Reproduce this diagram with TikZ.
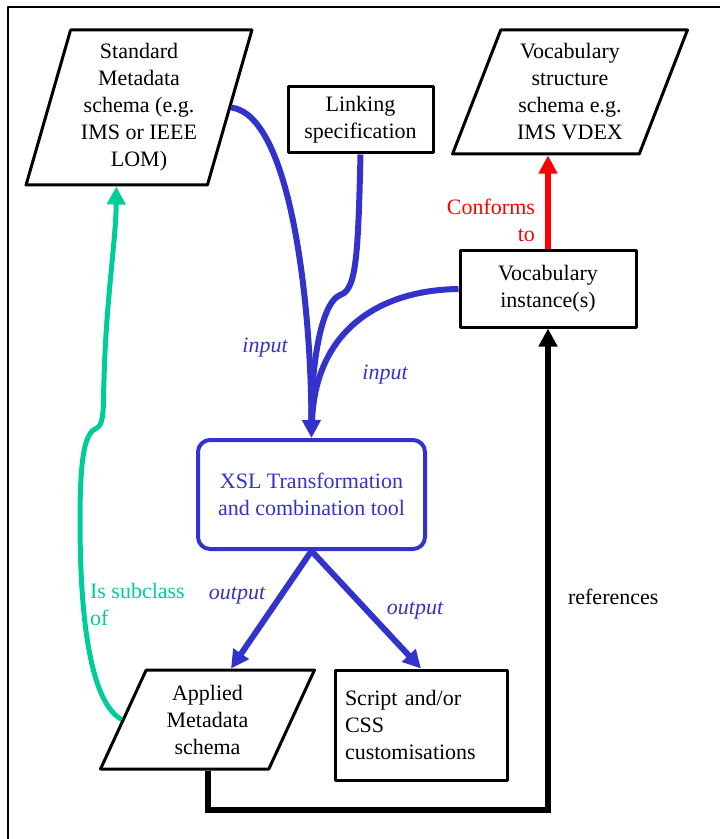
\documentclass[tikz,border=0pt]{standalone}
\usepackage{fontspec}
\setmainfont{Liberation Serif}
\usetikzlibrary{shapes.geometric,arrows.meta}
\definecolor{xslblue}{RGB}{51,51,204}
\definecolor{subgreen}{RGB}{0,204,153}
\tikzset{
  box/.style={draw, line width=1.5pt, align=center, inner sep=1pt},
  para/.style={draw, trapezium, trapezium stretches=true, line width=1.5pt, align=center, inner sep=1pt},
  flow/.style={line width=3pt, -{Triangle[length=9pt,width=9pt]}},
}
\begin{document}
\begin{tikzpicture}[x=0.5pt, y=-0.5pt, font=\fontsize{11}{13.5}\selectfont, line join=round]
  \useasboundingbox (0,0) rectangle (720,839);
  \draw[line width=1pt] (8,839) -- (8,7) -- (720,7);
  % nodes
  \node[para, trapezium left angle=73.5, trapezium right angle=106.5,
        minimum width=114pt, minimum height=77.5pt] (std) at (139,107.5)
        {Standard\\Metadata\\schema (e.g.\\IMS or IEEE\\LOM)};
  \node[box, minimum width=72.5pt, minimum height=33pt] (link) at (360.5,120)
        {Linking\\specification};
  \node[para, trapezium left angle=69.2, trapezium right angle=110.8,
        minimum width=118pt, minimum height=62pt] (vs) at (570,92)
        {Vocabulary\\structure\\schema e.g.\\IMS VDEX};
  \node[box, minimum width=88pt, minimum height=38pt] (vi) at (548,289)
        {Vocabulary\\instance(s)};
  \node[box, draw=xslblue, text=xslblue, rounded corners=6pt, line width=2pt,
        minimum width=113.5pt, minimum height=54.5pt] (xsl) at (311.5,494.5)
        {XSL Transformation\\and combination tool};
  \node[para, trapezium left angle=66.5, trapezium right angle=113.5,
        minimum width=107.5pt, minimum height=49.5pt] (app) at (207.5,719.5)
        {Applied\\Metadata\\schema};
  \node[box, align=left, text width=76pt, inner sep=5pt,
        minimum height=55pt] (css) at (421,725)
        {Script and/or\\CSS\\customisations};
  % connectors
  \draw[flow, line join=miter] (app.south) -- ++(0,39) -| (vi.south);
  \draw[flow, red] (vi.north) -- (vi.north |- vs.south);
  \draw[flow, xslblue] (std.right side) .. controls (290,115) and (311,300) .. (xsl.north);
  \draw[line width=3pt, xslblue, shorten >=8pt] (link.south) .. controls (358,260) and (356,290) .. (340,295)
        .. controls (318,305) and (311,380) .. (xsl.north);
  \draw[line width=3pt, xslblue, shorten >=8pt] (vi.west) .. controls (380,290) and (315,330) .. (xsl.north);
  \draw[flow, xslblue] (xsl.south) -- (app.top side);
  \draw[flow, xslblue] (xsl.south) -- (css.north);
  \draw[flow, subgreen, line width=2.5pt] (app.left side) .. controls (95,705) and (80,640) .. (80,520)
        .. controls (80,450) and (86,432) .. (97,428)
        .. controls (105,424) and (103,400) .. (104,380)
        .. controls (106,300) and (116,240) .. (std.bottom side);
  % labels
  \node[text=xslblue, font=\fontsize{11}{13.5}\selectfont\itshape] (in1) at (265,348) {input};
  \node[text=xslblue, font=\fontsize{11}{13.5}\selectfont\itshape] (in2) at (385,375) {input};
  \node[text=xslblue, font=\fontsize{11}{13.5}\selectfont\itshape] (out1) at (237,596) {output};
  \node[text=xslblue, font=\fontsize{11}{13.5}\selectfont\itshape] (out2) at (415,611) {output};
  \node[anchor=west] (refs) at (561,597) {references};
  \node[text=red, align=right, anchor=east] (conf) at (542,220) {Conforms\\to};
  \node[text=subgreen, align=left, anchor=west] (subc) at (83,604) {Is subclass\\of};
\end{tikzpicture}
\end{document}
